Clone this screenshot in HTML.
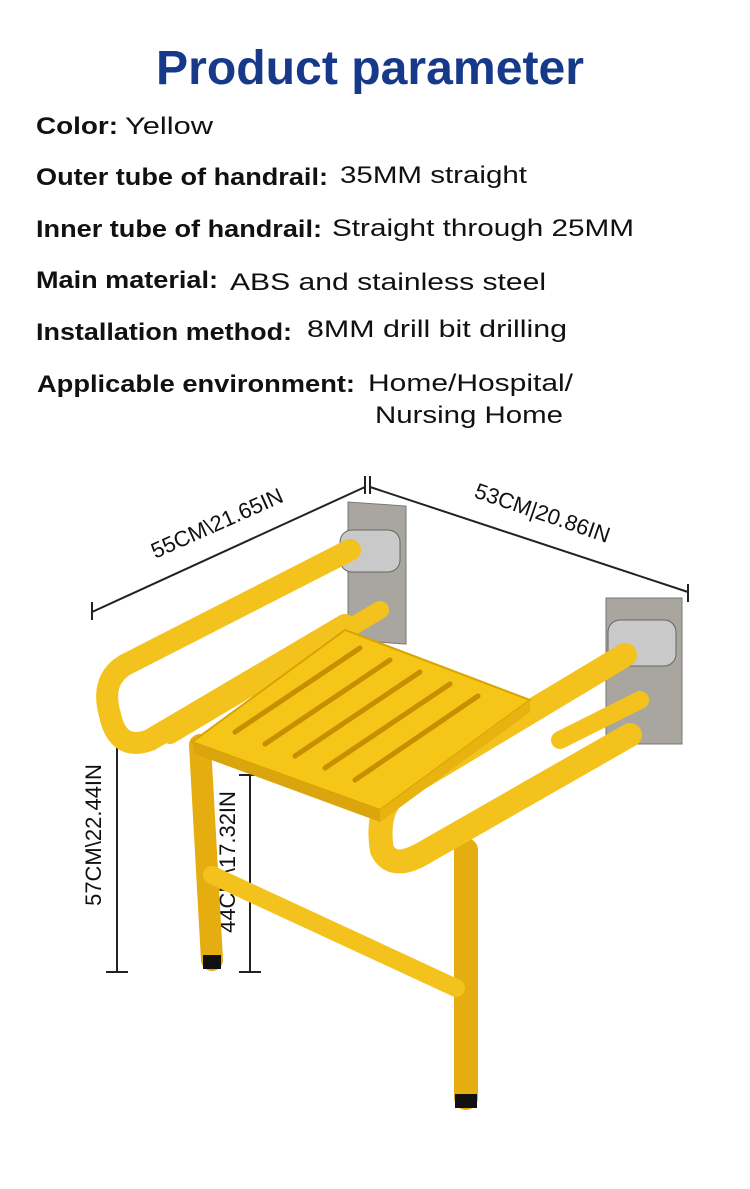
<!DOCTYPE html>
<html><head><style>html,body{margin:0;padding:0;background:#fff}svg{display:block}</style></head><body>
<svg width="750" height="1189" viewBox="0 0 750 1189" xmlns="http://www.w3.org/2000/svg" font-family="Liberation Sans, sans-serif">
<rect width="750" height="1189" fill="#fff"/>
<text x="370" y="84" text-anchor="middle" font-size="48" font-weight="bold" fill="#17398a" textLength="428" lengthAdjust="spacingAndGlyphs">Product parameter</text>
<g font-size="24" fill="#111">
<text x="36" y="134" font-weight="bold" textLength="82" lengthAdjust="spacingAndGlyphs">Color:</text>
<text x="125" y="134" textLength="88" lengthAdjust="spacingAndGlyphs">Yellow</text>
<text x="36" y="185" font-weight="bold" textLength="292" lengthAdjust="spacingAndGlyphs">Outer tube of handrail:</text>
<text x="340" y="183" textLength="187" lengthAdjust="spacingAndGlyphs">35MM straight</text>
<text x="36" y="237" font-weight="bold" textLength="286" lengthAdjust="spacingAndGlyphs">Inner tube of handrail:</text>
<text x="332" y="236" textLength="302" lengthAdjust="spacingAndGlyphs">Straight through 25MM</text>
<text x="36" y="288" font-weight="bold" textLength="182" lengthAdjust="spacingAndGlyphs">Main material:</text>
<text x="230" y="290" textLength="316" lengthAdjust="spacingAndGlyphs">ABS and stainless steel</text>
<text x="36" y="340" font-weight="bold" textLength="256" lengthAdjust="spacingAndGlyphs">Installation method:</text>
<text x="307" y="337" textLength="260" lengthAdjust="spacingAndGlyphs">8MM drill bit drilling</text>
<text x="37" y="392" font-weight="bold" textLength="318" lengthAdjust="spacingAndGlyphs">Applicable environment:</text>
<text x="368" y="391" textLength="205" lengthAdjust="spacingAndGlyphs">Home/Hospital/</text>
<text x="375" y="423" textLength="188" lengthAdjust="spacingAndGlyphs">Nursing Home</text>
</g>
<!-- dimension lines -->
<g stroke="#222" stroke-width="2" fill="none">
<line x1="92" y1="612" x2="365" y2="487"/><line x1="92" y1="602" x2="92" y2="620"/><line x1="365" y1="476" x2="365" y2="494"/>
<line x1="370" y1="487" x2="688" y2="592"/><line x1="370" y1="476" x2="370" y2="494"/><line x1="688" y1="584" x2="688" y2="602"/>
<line x1="117" y1="672" x2="117" y2="972"/><line x1="106" y1="672" x2="128" y2="672"/><line x1="106" y1="972" x2="128" y2="972"/>
<line x1="250" y1="775" x2="250" y2="972"/><line x1="239" y1="775" x2="261" y2="775"/><line x1="239" y1="972" x2="261" y2="972"/>
</g>
<g font-size="22" fill="#111">
<text transform="translate(220,530) rotate(-24)" text-anchor="middle">55CM\21.65IN</text>
<text transform="translate(540,520) rotate(19)" text-anchor="middle">53CM|20.86IN</text>
<text transform="translate(101,835) rotate(-90)" text-anchor="middle">57CM\22.44IN</text>
<text transform="translate(235,862) rotate(-90)" text-anchor="middle">44CM\17.32IN</text>
</g>
<!-- wall plates -->
<rect x="348" y="502" width="58" height="138" fill="#a9a6a0" stroke="#777" transform="skewY(4)" transform-origin="348 502"/>
<rect x="606" y="598" width="76" height="146" fill="#a9a6a0" stroke="#777"/>
<rect x="340" y="530" width="60" height="42" rx="12" fill="#c9c9c9" stroke="#666"/>
<rect x="608" y="620" width="68" height="46" rx="12" fill="#c9c9c9" stroke="#666"/>
<!-- legs -->
<g stroke-linecap="round" fill="none">
<line x1="200" y1="745" x2="212" y2="960" stroke="#e6ad10" stroke-width="22"/>
<line x1="466" y1="850" x2="466" y2="1098" stroke="#e6ad10" stroke-width="24"/>
<line x1="212" y1="875" x2="456" y2="988" stroke="#f3c21c" stroke-width="18"/>
<!-- back rail & supports -->
<line x1="170" y1="735" x2="380" y2="610" stroke="#f3c21c" stroke-width="18"/>
<line x1="560" y1="740" x2="640" y2="700" stroke="#f3c21c" stroke-width="18"/>
<!-- left armrest -->
<path d="M350,550 L125,665 Q100,680 110,715 Q118,752 150,740 L345,625" stroke="#f3c21c" stroke-width="22"/>
<!-- right armrest -->
<path d="M625,655 L400,790 Q375,808 382,850 Q392,870 420,855 L630,735" stroke="#f3c21c" stroke-width="24"/>
</g>
<rect x="203" y="955" width="18" height="14" fill="#111"/>
<rect x="455" y="1094" width="22" height="14" fill="#111"/>
<!-- seat -->
<polygon points="192,742 345,630 530,700 380,810" fill="#f5c518" stroke="#d9a400" stroke-width="2"/>
<polygon points="192,742 380,810 380,822 195,754" fill="#dba50e"/>
<polygon points="380,810 530,700 530,712 380,822" fill="#e8b210"/>
<g stroke="#c68f00" stroke-width="5" stroke-linecap="round">
<line x1="235" y1="732" x2="360" y2="648"/>
<line x1="265" y1="744" x2="390" y2="660"/>
<line x1="295" y1="756" x2="420" y2="672"/>
<line x1="325" y1="768" x2="450" y2="684"/>
<line x1="355" y1="780" x2="478" y2="696"/>
</g>
</svg>
</body></html>
